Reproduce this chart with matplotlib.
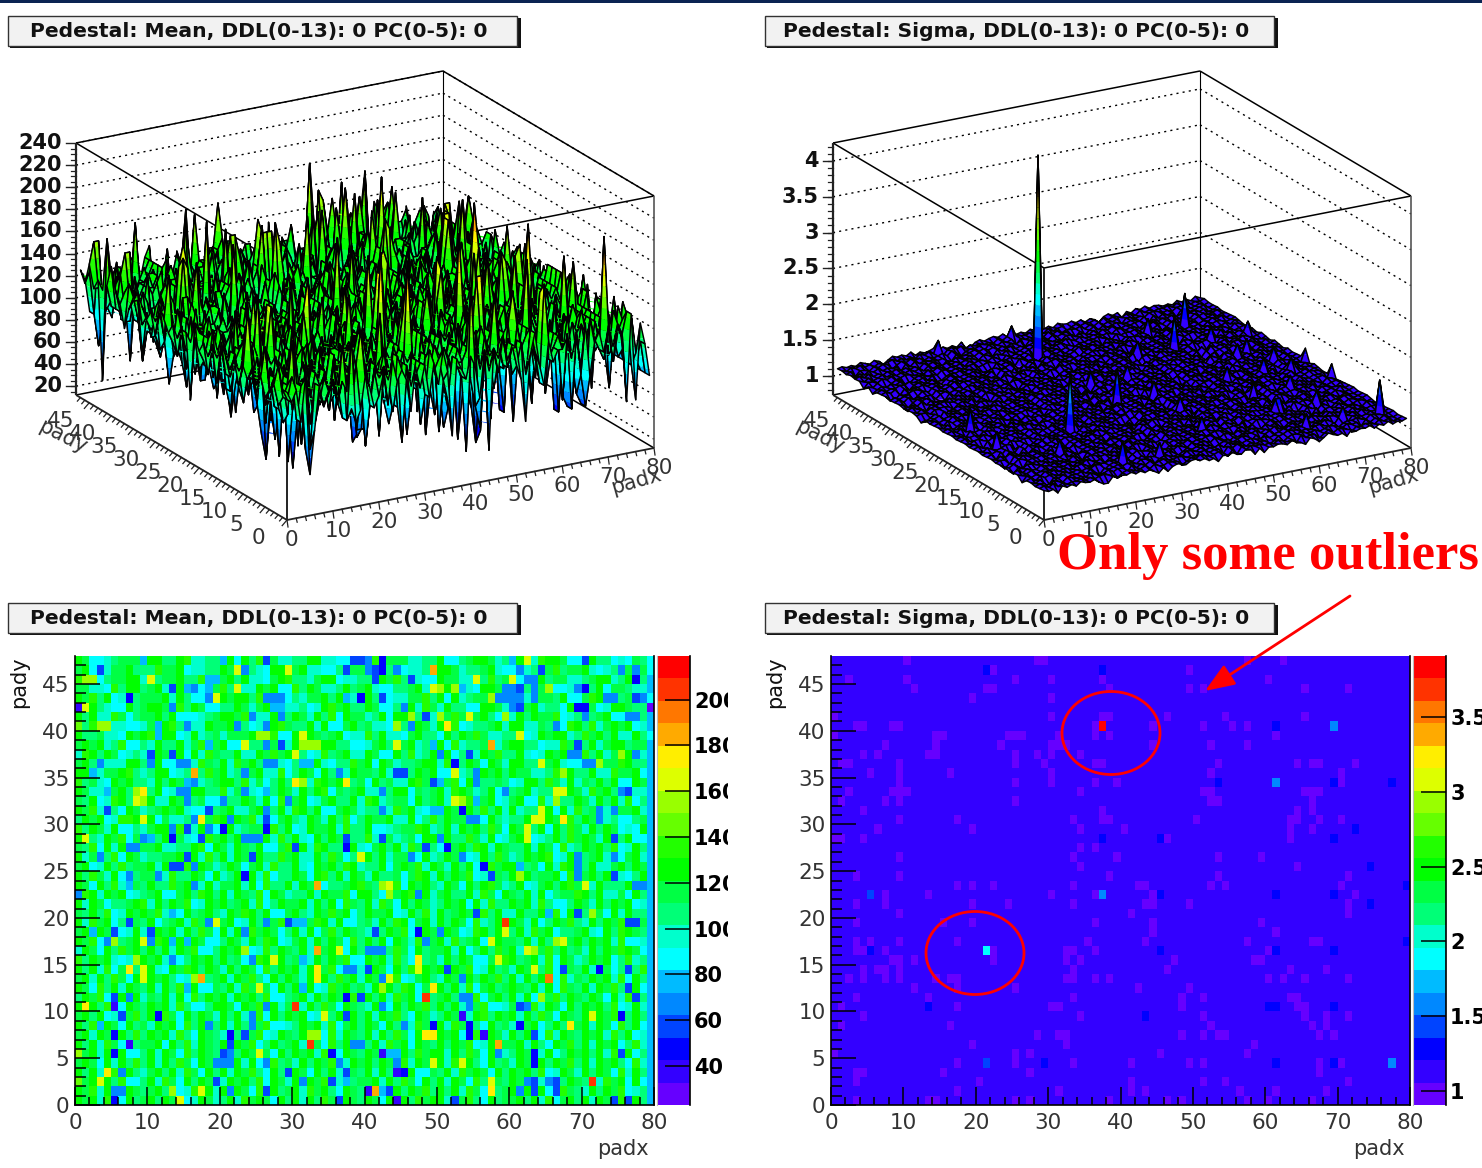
import numpy as np
import matplotlib
matplotlib.use("Agg")
from matplotlib import pyplot as plt
from matplotlib.collections import PolyCollection
from matplotlib.colors import BoundaryNorm, ListedColormap
from matplotlib.patches import Ellipse, Rectangle

NX, NY = 80, 48
title_mean = "Pedestal: Mean, DDL(0-13): 0 PC(0-5): 0"
title_sigma = "Pedestal: Sigma, DDL(0-13): 0 PC(0-5): 0"
note = "Only some outliers"

# ROOT rainbow palette, bottom to top of the colour bar
palette = ["#6600ff", "#3300ff", "#0000ff", "#0044ff", "#0088ff", "#00bbff", "#00ffff", "#00ffcc", "#00ff77", "#00ff44",
           "#00ff00", "#22ff00", "#66ff00", "#99ff00", "#ddff00", "#ffee00", "#ffaa00", "#ff7700", "#ff3300", "#ff0000"]
mean_range = (23.0, 219.0)
sigma_range = (0.906, 3.91)

# mean map, colour band per cell (base-20), top row first
mean_rows = """
a966789998 aa88ab7788 9a6a8b9977 88aa776689 8ba9997788 a6689aa978 8a77baa966 9a88676986
9a67799a88 8b99a67788 a9b8876aa9 9a77668899 a988b67789 aa97889a76 6678a9b899 a767889a96
bc76899aa7 7899a88b66 9a8a7769ab 8879aa6778 89a9b88766 a9977a8b89 667aa89977 89aa78a885
99776b8aa8 9a77aa8669 b8877a9a66 b8a9778a89 a766889a7b 9a8876aa99 7a889b6677 a8a6998775
a9b8a67789 99a7a86677 a9aa8b7766 8799a8a977 a8a67799b8 a6a7899677 8a7b998a66 9ba7789a76
9ba8766a89 aa97b8a966 88a979a8a7 7867ab9a88 a96689a7b9 7a8866aa97 b99a7886a7 8967aa9887
a8a77b9689 9a8a666789 aa9b877a88 a97a8b6a99 78a6aa9877 89b979a867 7a8a99b678 a89a667985
c8b9a77667 98ab8a77a9 9a8867aab9 88a7a669a8 9776b8aa97 a9b67889a7 aa779886ba 8b79a9a675
a889776a9a b8aa67a789 7999a88b66 a7a989a677 b8a7769a88 6a8a9b9778 8967a9aa78 b9a8a77a86
9a9a78b668 7a88a79b99 a66a88b977 a789aa8866 79a8b9a788 a6b7889a79 aa88677b99 8a79aa8995
7ba8a96787 8a98a6a7b9 88a77a9b9a a867b89a77 a966a8b78a 9a6897a9b8 8a767a9aa8 b8a798a675
9a8b777aa8 9a668a7b98 a7b9a88676 8a9a7688b9 a6a97889aa 7b88a96a97 aa8879a766 78a99ba885
aa6799ab87 8aa67898b9 a78a9a77b6 8a96a8b7a9 98a7688a9a 66b789a9a8 a99778b6a8 8a77b99a65
b8976a9a88 7a8a9a6789 aa8b7968a8 a77ba9a889 6a8977ab98 a9b6a78898 67aa8b97a7 98a8a66a95
a97789a8b7 8a67a9aa88 b79976a8a9 7a8ab6989a 77a8aa6989 a7ba978a66 89a7886aa9 7b9a8a9775
98a67ba8a9 a77a9b8966 a88a97a6b8 9a679a88a7 ba78996a89 a788ba9a67 9a66b7a88a 97a8a7b685
a9b7886a97 89a9a766b8 9a779a88a7 ba8a669a97 88a7b9a768 9a96a8b8a7 a7889a6a7b 89a7699a75
8a9a67bba8 a697788a9b a8a9b7669a 87a97a8b68 a99a77a68b 8a99b76a87 88a7aa96b8 a9a7866895
b8a97a6687 9aa8b97a66 8a7899ab8a 67a99a7b88 a667899ba7 8a7a9a8b96 a978a6a8b9 7a8a9676a5
a887a9b69a 78aa9768b9 a8a699a7b8 a76a8a9988 b7a97896aa 8a88b97a67 9aa678a8b9 a97a88a665
98b6a7a8a9 9a7788ab6a 97a98a669b 8a7ba889a7 69a8a7b9a8 669a8ba7a9 88a7a96b78 a9a8b67a85
a79a8b6a97 8899a6a7b8 a7a96a88b9 a77a8b9689 a8a799b6a7 8a9a67a8b9 78a9ab67a8 89a7b69a75
9a67a8b899 a7a89b6a97 8a969a7b88 a76a9a8ba7 88a69a9b7a 97a8a67b9a a8896a7ba9 8a779a8a95
a8b97a6a89 9a7b88a96a 78a9a7b688 a96ab8a7a9 7a88969ba7 a8a9b67a98 a7a899a6b8 9a8a7768a5
a96a8b7a98 a88b9a67a7 99a7a6b88a 7a9a6889ab 98a7b6a9a8 7a96a8ab97 8a679a8ab9 a7a888a975
8ba7a9a678 9a669a8ba8 a7a98b6a97 88a7a99b6a a8679ab8a7 9a88a7b96a 98a7a6899b a8a7796a85
a7a96889ab 7a8a9b67a9 a89a7b68a9 9a7a8a6b98 a7b96a8a97 8a9a6a7b88 a9a7b8668a 97a8a9a675
98a8b67a9a 9b7a6a89a8 7a9ba8a669 a87a9b9a68 a99a67a8b7 a89a96b8a7 7a88a9b6a9 8a96a7a885
a7b9a68a98 a689a7b9a8 9a67a8a9b7 8a9ba7a668 97a8ba69a7 a8a96b78a9 a97a68a9b8 7a8a9b6795
9a8a9b67a7 8a9a7a8b96 a7a8b9a968 a7a69b8a98 7a8a9b67a9 8a967ba8a9 8a7b9a6889 a76a8ba985
a9b67a89a8 7ba8a9a966 8a97a8ba67 9a7a8a96b8 a8a6a97b89 a7b89a67a9 98a7a86b9a 8a9a7b6675
7a96a8b9a8 a8a7a9b668 a9a667b8a9 8a7b9a96a8 a7a8b96a89 9a7a68a8b9 a76a9b8a89 7a8a9ba965
b8a9a7678a 9a7b68a9a8 a8967ba9a8 9a7a8a9b66 a9a7b86a89 7a8a9669ab a89a7b6a97 8a9a68b785
a8a7b69a89 a76a9ba8a9 7a8a96b8a9 a7a99b6a87 8a96a8b7a9 a8a9b67a89 7a9a8b6a98 a7a968a8b5
9a7a8b96a8 a9a867ba89 a7a9b86a8a 97a6a8b9a7 a9a8b679a8 7a96a8a9b8 a7a8a96b79 8a9a7b6a85
a96b8a7a98 a7a8b9a669 8a7b9a96a8 a8a67b9a89 7a9a8ba697 a8a7b69a89 a98a7a6b98 a7a9b86a65
8a9b67a9a7 98a7a6b8a9 a7a9a8b668 9a7a8a96b9 a8a7b9a678 9a8a7b69a8 a7a669b8a9 8a96a7ba85
a7a8b96a98 a9a7b8668a a96a9b8a79 a7a8b96a98 7a96a8a9b8 a8a7a9b667 9a8b7a96a8 a9a8b67a75
9a8a67a9b8 a7b96a8a97 a8a79b6a8a 9a67b8a9a8 a7a9b86a97 8a967ab8a9 a7a8b96a98 a7a9b68a85
a8b7a96a89 7a9a6b8a98 a7a8a9b667 8a9a7b69a8 a96a8a7b98 a7b9a86a89 7a9a68a8b9 a7a96b8a65
9a7a96a8b8 a9a7b86a98 7a8a9b67a9 8a9a6b7a98 a7a8b96a89 a9a67b8a97 a8a96b7a98 a9a7b8a675
a8a7b96a89 9a6a8b7a98 a7a9b68a89 a7a96b8a97 8a7b9a6a98 a8a9b67a89 9a7a86a9b8 a7a9a68b75
b9a7a8a668 a7a96b8a98 7a8a9b96a8 a9a7b86a98 a96a7a8b9a a7a8b96a97 8a9b7a68a9 a8a7b9a685
9a96a7a8b8 a7a8b96a98 a9a7a68b89 7a8a9b67a9 a8a96b7a98 a7b9a86a89 7a96a8a9b8 a7a9a86b75
a8a79b6a87 9a8a7b96a8 a7a9b86a89 a96a8a7b98 a7a8b9a669 8a7b9a96a8 a9a8b67a97 a8a96b7a85
c9a7a8b668 a7b96a8a98 7a9a8b6a97 a8a9b67a89 9a7a8b96a8 a7a96b8a98 a9a67ba8a9 8a7b9a6a65
a9b7a86a98 9a8a67b9a7 a8a96b7a89 a7b9a86a98 7a96a8a9b8 a8a7b96a89 a7a9a68b98 7a8a9b6785
a9a7b86a89 a8a9b67a97 8a7b9a96a8 a7a8b96a98 a96a7a8b9a a7a9b86a89 9a8a7b69a8 a7a96b8a85
""".split("\n")[1:-1]

# cells that stand out from the rest: row (from top) -> "column:band"
mean_marks = {
    0: "9:5 20:5 26:3 38:3 39:3 40:4 42:2 60:5 62:e 70:3",
    1: "3:3 22:e 23:4 29:e 37:3 40:4 41:3 42:2 44:4 49:g 61:4 64:3 75:4 77:4",
    2: "1:d 2:d 10:e 18:5 19:5 41:3 46:3 55:e 60:e 62:4 63:4 77:2",
    3: "13:3 15:5 16:4 18:5 22:e 49:e 50:d 52:d 53:5 59:4 60:4 61:3 63:4 65:d 69:4 70:2",
    4: "7:2 18:4 19:e 26:4 27:4 28:4 37:5 39:2 42:3 57:d 58:4 59:4 60:4 61:4 63:4 73:4 74:4 77:3 78:4",
    5: "0:1 1:e 13:4 27:5 28:5 45:4 60:4 61:3 69:2 70:2 79:0",
    6: "24:4 28:4 46:d 48:3 50:d 54:e 59:d 70:4 76:4 77:4",
    7: "3:d 4:d 11:5 15:4 22:4 26:4 44:d 46:4 51:f 66:4",
    8: "11:5 25:d 26:d 31:e 61:e",
    9: "18:5 23:e 26:4 28:3 31:d 32:d 33:d 44:e 49:5 57:g 69:3",
    10: "10:3 13:3 30:e 50:4 54:3 68:4 69:4 75:d 77:4",
    11: "3:4 10:4 14:4 15:4 26:4 27:4 31:5 32:5 52:2 64:e 70:4 71:4 72:d",
    12: "2:5 16:g 23:4 36:4 44:3 45:3 52:e 55:4 67:d",
    13: "15:5 16:4 30:f 31:d 37:f 49:3 50:5 55:4",
    14: "4:5 8:d 9:f 14:4 15:4 23:4 26:5 42:4 59:4 66:e 67:e 75:4 76:3",
    15: "8:e 9:d 15:4 20:4 29:4 52:e 53:d 55:5 66:d",
    16: "4:3 18:3 26:4 42:4 49:5 50:5 53:2 64:e 72:4 74:4",
    17: "9:e 16:4 17:f 21:4 26:3 54:4 55:4 63:e 64:e 67:f 72:4",
    18: "13:4 15:3 18:4 20:2 26:2 62:e",
    19: "1:e 9:4 10:5 13:2 17:3 23:4 24:4 25:4 37:3 42:3 50:4 62:e 74:3",
    20: "7:4 8:4 30:3 37:2 48:3 51:2",
    21: "3:4 15:3 24:3 39:e 46:4 53:4 69:4 74:4",
    22: "13:3 14:3 16:4 56:2 61:5 69:4",
    23: "7:4 11:4 23:2 57:3 61:d 69:4 74:3",
    24: "7:5 16:4 33:g 42:d 43:e 70:e 77:4 78:4",
    25: "0:4 43:d 47:4",
    27: "13:5 55:3 65:5 69:3 71:d",
    28: "7:3 18:4 19:e 26:4 29:3 30:5 31:5 59:i 76:3 77:3",
    29: "2:5 5:3 10:3 23:4 41:3 47:2 50:4 59:e",
    30: "4:4 5:d 9:e 10:4 13:5 15:5 48:4 57:e 66:d 67:e",
    31: "23:d 33:g 36:e 40:4 41:4 42:4 62:e 63:d",
    32: "8:d 13:4 24:4 27:e 31:5 47:f 58:e",
    33: "7:f 9:e 33:f 37:4 38:4 40:3 47:e 51:3 63:e 67:3 72:2 76:3",
    34: "9:e 16:d 17:g 33:f 42:4 43:e 53:4 65:h",
    35: "15:5 25:e 31:5 42:d 49:f 76:3",
    36: "5:3 7:4 37:2 39:3 48:i 53:4 54:4 64:d 77:3",
    37: "1:f 5:1 26:4 30:i 42:4 54:4 61:3 62:4",
    38: "6:3 11:2 24:4 34:e 37:3 53:1 71:e 75:2",
    39: "3:5 18:4 24:4 45:4 49:2 54:2 61:2 68:f",
    40: "5:2 21:2 23:3 32:d 33:d 48:f 49:f 54:2 56:1 63:3",
    41: "7:1 21:3 32:i 38:4 39:4 58:g",
    42: "0:d 5:2 20:3 21:4 25:e 35:2 42:1 43:5 44:5 58:4 63:2 75:3",
    43: "19:4 20:4 21:4 26:4 36:4 44:4 49:e 53:e 63:2",
    44: "4:f 6:4 29:3 37:3 45:2 44:1",
    45: "3:e 19:3 31:4 35:3 37:5 57:e 62:4 63:3 65:4 66:3 71:i",
    46: "5:4 6:4 13:d 17:e 21:4 26:3 40:1 41:g 42:5 43:3 57:f 61:4 63:3 66:3",
    47: "5:2 14:e 36:3 44:1 52:3 74:3 76:3",
}

# sigma map: fine height of the flat part, one digit per cell, top row first
sigma_rows = """
4635274163 5274638152 4736251847 3625748163 5274136285 4736152847 3625174836 5241736284
5274836152 4736251748 3625847163 5241738265 4736182574 3625471836 5274183625 4738162547
3625417486 5273846152 4718362547 3652748163 5241837265 4716382547 3652417863 5278413625
6152748364 5271836452 4736125847 3615274836 5241736825 4738162574 3652847163 5274136825
4738251647 3625184736 5274163825 4736825147 3652418736 5271638425 4783162547 3625847136
5271483625 4736182547 3625741863 5284137265 4716385274 3652418736 5273841625 4718362574
3652748136 5241738625 4718365274 3625148736 5278416325 4731862547 3652741863 5248137265
4173826547 3652418736 5278136425 4738162547 3625847136 5274163825 4736251847 3615274836
5263748152 4718362547 3652741836 5284137265 4716382574 3652418763 5273841625 4718365247
3625487136 5271638425 4738165247 3625741836 5248137265 4716385247 3652817436 5274136285
4738162547 3652847136 5241736825 4718362574 3625148763 5278416325 4731862574 3652741863
5284137625 4716382547 3652417836 5273841265 4718365274 3625874136 5271683425 4738162574
3625741863 5248137265 4716385274 3652481736 5274136825 4738165247 3652874136 5241736285
4718362547 3625148736 5278416325 4731865247 3652741836 5284137265 4716382574 3652418763
5273846125 4718362574 3625487136 5271638425 4738162547 3625741863 5248173265 4716385247
3652817436 5274163825 4738165274 3652847163 5241736825 4718362547 3625184736 5278416325
4731862574 3652741863 5284137625 4716382547 3652417836 5273841265 4718365247 3625874163
5271683425 4738162574 3625741836 5248137265 4716385274 3652481763 5274136825 4738165247
3652874136 5241763285 4718362574 3625148736 5278461325 4731865274 3652741863 5284173265
4716382547 3652418736 5273846125 4718362547 3625487163 5271638245 4738162574 3625741863
5248137625 4716385247 3652817463 5274136825 4738165274 3652847136 5241736825 4718326547
3625184763 5278416325 4731862547 3652714863 5284137265 4716382574 3652471836 5273841625
4718365274 3625874136 5271683245 4738162547 3625741836 5248173625 4716385274 3652481736
5274163285 4738165247 3652874163 5241736825 4718362574 3625148736 5278416235 4731865247
3652741863 5284137625 4716328547 3652417863 5273841265 4718365247 3625874136 5271638425
4738126547 3625741863 5248137265 4716385247 3652817436 5274136825 4783165274 3652847163
5241736285 4718362547 3625184736 5278416325 4731862574 3652741836 5284173265 4716382547
3652418763 5273846125 4718365274 3625487136 5271683425 4738162574 3625714863 5248137265
4716385274 3652481736 5274163825 4738165247 3652874136 5241763825 4718362574 3625148763
5278416325 4731865247 3652741863 5284137265 4716382574 3652417836 5273841625 4718326574
3625874163 5271638425 4738162547 3625741836 5248173265 4716385247 3652817463 5274136825
4738165274 3652847136 5241736285 4718362547 3625184736 5278461325 4731862574 3652741863
5284137625 4716382547 3652418736 5273846125 4718365247 3625487163 5271683245 4738162574
3625741863 5248137265 4716385274 3652481763 5274136825 4738165247 3652874136 5241763285
4718362574 3625148736 5278416325 4731865274 3652714863 5284173265 4716382547 3652471836
5273841625 4718362547 3625874136 5271638425 4738162574 3625741863 5248137625 4716385247
3652817436 5274163825 4738165274 3652847163 5241736825 4718326547 3625184763 5278416325
4731862547 3652741836 5284137265 4716382574 3652418763 5273841265 4718365274 3625487136
5271683425 4738162547 3625714836 5248173625 4716385274 3652481736 5274136285 4738165247
3652874163 5241736825 4718362574 3625148736 5278416235 4731865247 3652741863 5284137625
4716328547 3652417863 5273846125 4718365247 3625874136 5271638425 4738126547 3625741863
5248137265 4716385247 3652817436 5274163825 4783165274 3652847163 5241763285 4718362547
3625184736 5278416325 4731862574 3652741836 5284173265 4716382547 3652418763 5273841265
4718365274 3625487136 5271683425 4738162574 3625714863 5248137265 4716385274 3652481736
5274163825 4738165247 3652874136 5241763825 4718362574 3625148763 5278416325 4731865247
3652741863 5284137265 4716382574 3652417836 5273841625 4718326574 3625874163 5271638425
4738162547 3625741836 5248173265 4716385247 3652817463 5274136825 4738165274 3652847136
5241736285 4718362547 3625184736 5278461325 4731862574 3652741863 5284137625 4716382547
""".split("\n")[1:-1]

# purple cells just under the flat level: row (from top) -> columns
sigma_low = {
    0: [10, 28, 29, 57, 62], 1: [22, 49], 2: [2, 10, 25, 30, 37, 60], 3: [11, 21, 22, 38, 49, 51, 65, 71],
    4: [19, 30], 6: [0, 30, 37, 38, 46, 54, 65], 7: [3, 4, 8, 9, 36, 44, 51, 55, 57],
    8: [0, 14, 15, 24, 25, 26, 31, 36, 38, 61], 9: [7, 14, 23, 30, 31, 32, 44, 52, 57],
    10: [4, 6, 13, 14, 25, 28, 30, 34], 11: [1, 2, 9, 25, 29, 36, 37, 53, 64, 66, 67, 72],
    12: [5, 9, 16, 30, 52, 70], 13: [9, 25, 30, 36, 39, 70], 14: [2, 8, 9, 10, 34, 51, 52, 65, 66, 67],
    15: [1, 7, 9, 25, 52, 53, 66], 16: [4, 37, 64, 66], 17: [9, 17, 33, 37, 38, 50, 63, 64, 67, 70],
    18: [6, 19, 34, 40, 63, 66], 19: [0, 1, 4, 46, 63], 20: [34, 36], 21: [9, 33, 39, 53, 59],
    22: [34, 64], 23: [3, 9, 38, 53, 71], 24: [17, 19, 22, 33, 42, 43, 52, 54, 70],
    25: [7, 13, 30, 36, 44, 72], 26: [3, 7, 19, 24, 33, 43, 44, 49, 71], 27: [9, 41, 71],
    28: [3, 15, 19, 36, 44, 59], 29: [44, 61], 30: [3, 5, 9, 17, 35, 43, 57, 66, 67],
    31: [3, 4, 7, 22, 32, 33, 36, 60], 32: [8, 9, 11, 22, 32, 34, 47, 58, 59], 33: [4, 6, 7, 9, 33, 46, 63, 68],
    34: [2, 4, 7, 9, 14, 16, 17, 32, 33, 36, 38, 60, 62, 65, 71], 35: [11, 17, 25, 42, 49],
    36: [3, 13, 33, 48, 51, 63, 64], 37: [1, 17, 30, 31, 48, 64, 65], 38: [4, 34, 51, 65, 68, 71],
    39: [1, 16, 52, 66, 68], 40: [28, 31, 32, 48, 51, 53, 54, 67, 69], 41: [19, 32, 58], 42: [0, 25, 27, 45, 57],
    43: [17, 25, 33, 41, 49, 51, 67, 70], 44: [3, 4, 15, 27, 67], 45: [3, 20, 41, 51, 54, 71],
    46: [17, 31, 41, 43, 56, 61, 68], 47: [3, 13, 14, 25, 27, 38, 46, 48, 57, 60, 66],
}

# the outliers: (row from top, column, sigma)
sigma_high = [(7, 37, 3.88), (31, 21, 1.9), (1, 21, 1.28), (1, 37, 1.28), (7, 61, 1.3), (7, 69, 1.55), (13, 53, 1.3),
              (13, 61, 1.55), (13, 69, 1.3), (13, 77, 1.28), (18, 72, 1.28), (19, 37, 1.3), (19, 45, 1.28), (19, 69, 1.28),
              (22, 74, 1.28), (24, 79, 1.28), (25, 5, 1.4), (25, 37, 1.55), (25, 45, 1.28), (25, 61, 1.28), (25, 69, 1.3),
              (26, 74, 1.28), (30, 79, 1.28), (31, 5, 1.3), (31, 45, 1.28), (31, 61, 1.28), (31, 69, 1.28), (37, 13, 1.3),
              (37, 60, 1.28), (37, 61, 1.28), (37, 69, 1.28), (38, 43, 1.28), (43, 21, 1.4), (43, 29, 1.28), (43, 61, 1.28),
              (43, 69, 1.28), (43, 77, 1.55)]

mean_ticks = [40, 60, 80, 100, 120, 140, 160, 180, 200]
sigma_ticks = [1, 1.5, 2, 2.5, 3, 3.5]
mean_zticks = list(range(20, 241, 20))
sigma_zticks = [1, 1.5, 2, 2.5, 3, 3.5, 4]


def read_mean():
    step = (mean_range[1] - mean_range[0]) / 20
    grid = np.zeros((NY, NX))
    for r, line in enumerate(mean_rows):
        codes = list(line.replace(" ", "").ljust(NX, "9")[:NX])
        for mark in mean_marks.get(r, "").split():
            col, code = mark.split(":")
            codes[int(col)] = code
        grid[NY - 1 - r] = [mean_range[0] + step * (int(c, 20) + 0.5) for c in codes]
    return grid


def read_sigma():
    grid = np.zeros((NY, NX))
    for r, line in enumerate(sigma_rows):
        digits = line.replace(" ", "").ljust(NX, "4")[:NX]
        grid[NY - 1 - r] = [1.08 + 0.008 * int(d) for d in digits]
    for r, cols in sigma_low.items():
        for c in cols:
            grid[NY - 1 - r, c] = 1.05
    for r, c, v in sigma_high:
        grid[NY - 1 - r, c] = v
    return grid


mean_map = read_mean()
sigma_map = read_sigma()

W, H = 1482, 1168
fig = plt.figure(figsize=(W / 100, H / 100), dpi=100, facecolor="white")
plt.rcParams["font.family"] = "DejaVu Sans"
GREY = "#333333"
cmap = ListedColormap(palette)


def px_axes(left, top, right, bottom, **kw):
    return fig.add_axes([left / W, 1 - bottom / H, (right - left) / W, (bottom - top) / H], **kw)


def clip_band(pts, lo, hi):
    # keep the part of a polygon (x, y, z) with lo <= z <= hi
    for limit, sign in ((lo, 1), (hi, -1)):
        out = []
        for k in range(len(pts)):
            a, b = pts[k], pts[(k + 1) % len(pts)]
            da, db = sign * (a[2] - limit), sign * (b[2] - limit)
            if da >= 0:
                out.append(a)
            if da * db < 0:
                t = da / (da - db)
                out.append(tuple(a[n] + t * (b[n] - a[n]) for n in range(3)))
        pts = out
        if not pts:
            return pts
    return pts


def draw_surface(ax, data, ox, zlo, zhi, crange, zticks, zminor, ticklabels):
    def project(x, y, z):
        return (ox + 367 * x / NX - 211 * y / NY, 520 - 72 * x / NX - 125 * y / NY - 252 * (z - zlo) / (zhi - zlo))

    def seg(a, b, **kw):
        pa, pb = project(*a), project(*b)
        ax.plot([pa[0], pb[0]], [pa[1], pb[1]], solid_capstyle="butt", **kw)

    # back walls, dotted grid at each z tick
    for z in zticks:
        seg((0, NY, z), (NX, NY, z), color="black", lw=1, ls=(0, (1.5, 3)))
        seg((NX, NY, z), (NX, 0, z), color="black", lw=1, ls=(0, (1.5, 3)))
    black = dict(color="black", lw=1.1)
    seg((0, NY, zhi), (NX, NY, zhi), **black)
    seg((NX, NY, zhi), (NX, 0, zhi), **black)
    seg((0, NY, zlo), (NX, NY, zlo), **black)
    seg((NX, NY, zlo), (NX, 0, zlo), **black)
    seg((NX, NY, zlo), (NX, NY, zhi), color="black", lw=0.8)
    seg((0, NY, zhi), (0, 0, zhi), **black)
    seg((0, 0, zhi), (NX, 0, zhi), **black)
    seg((0, 0, zlo), (0, 0, zhi), color="#222222", lw=1.4)
    seg((NX, 0, zlo), (NX, 0, zhi), color="#555555", lw=1.2)
    seg((0, NY, zlo), (0, NY, zhi), color="#222222", lw=1.6)
    seg((0, 0, zlo), (NX, 0, zlo), color="#222222", lw=1.3)
    seg((0, 0, zlo), (0, NY, zlo), color="#222222", lw=1.3)

    # x axis ticks and labels
    for v in range(0, NX + 1, 2):
        p = project(v, 0, zlo)
        n = 7 if v % 10 == 0 else 4
        ax.plot([p[0], p[0] + 1], [p[1], p[1] + n], color="#222222", lw=0.9)
        if v % 10 == 0:
            dx = 4 if v == 0 else 5
            ax.text(p[0] + dx, p[1] + 20, str(v), ha="center", va="center", fontsize=15.5, color=GREY)
    # y axis ticks and labels
    for v in range(0, NY):
        p = project(0, v, zlo)
        n = 1.6 if v % 5 == 0 else 1
        ax.plot([p[0], p[0] - 3 * n], [p[1], p[1] + 3.5 * n], color="#222222", lw=0.9)
        if v % 5 == 0:
            ax.text(p[0] - 29, p[1] + 18, str(v), ha="center", va="center", fontsize=15.5, color=GREY)
    # z axis ticks and labels
    for v in zminor:
        p = project(0, NY, v)
        ax.plot([p[0] - 5, p[0]], [p[1], p[1]], color="#222222", lw=0.9)
    for v, lab in zip(zticks, ticklabels):
        p = project(0, NY, v)
        ax.plot([p[0] - 10, p[0]], [p[1], p[1]], color="#222222", lw=1)
        ax.text(p[0] - 14, p[1], lab, ha="right", va="center", fontsize=15, fontweight="bold", color="#111111")
    ax.text(ox + 349, 481, "padx", rotation=16, ha="center", va="center", fontsize=15, color=GREY)
    ax.text(ox - 224, 437, "pady", rotation=-27, ha="center", va="center", fontsize=15, color=GREY)

    # SURF1: back to front, each cell cut into colour bands, then its black outline
    edges = np.linspace(crange[0], crange[1], 21)
    polys, faces, lines, widths = [], [], [], []
    for j in range(NY - 2, -1, -1):
        for i in range(NX - 2, -1, -1):
            corners = [(i + 0.5, j + 0.5, data[j, i]), (i + 1.5, j + 0.5, data[j, i + 1]),
                       (i + 1.5, j + 1.5, data[j + 1, i + 1]), (i + 0.5, j + 1.5, data[j + 1, i])]
            zs = [c[2] for c in corners]
            k0 = int(np.clip(np.searchsorted(edges, min(zs)) - 1, 0, 19))
            k1 = int(np.clip(np.searchsorted(edges, max(zs)) - 1, 0, 19))
            for k in range(k0, k1 + 1):
                part = corners if k0 == k1 else clip_band(corners, edges[k], edges[k + 1])
                if len(part) >= 3:
                    polys.append([project(*c) for c in part])
                    faces.append(palette[k])
                    lines.append("none")
                    widths.append(0)
            polys.append([project(*c) for c in corners])
            faces.append("none")
            lines.append("black")
            widths.append(1.05)
    ax.add_collection(PolyCollection(polys, facecolors=faces, edgecolors=lines, linewidths=widths, zorder=3))


def draw_map(left, data, crange, ticks, ticklabels):
    ax = px_axes(left, 656, left + 579, 1105)
    edges = np.linspace(crange[0], crange[1], 21)
    norm = BoundaryNorm(edges, 20)
    ax.pcolormesh(np.arange(NX + 1), np.arange(NY + 1), data, cmap=cmap, norm=norm)
    ax.set_xlim(0, NX)
    ax.set_ylim(0, NY)
    ax.set_xticks(range(0, NX + 1, 10))
    ax.set_xticks(range(0, NX + 1, 2), minor=True)
    ax.set_yticks(range(0, NY, 5))
    ax.set_yticks(range(0, NY), minor=True)
    ax.tick_params(axis="x", which="major", direction="in", length=13, width=1.1, labelsize=15.5, labelcolor=GREY, pad=6)
    ax.tick_params(axis="x", which="minor", direction="in", length=6, width=1.1)
    ax.tick_params(axis="y", which="major", direction="in", length=18, width=1.1, labelsize=15.5, labelcolor=GREY, pad=4)
    ax.tick_params(axis="y", which="minor", direction="in", length=8, width=1.1)
    ax.spines["top"].set_visible(False)
    ax.spines["right"].set_linewidth(1.2)
    ax.spines["left"].set_linewidth(1.2)
    ax.spines["bottom"].set_linewidth(1.2)
    ax.text(75.7, -4.7, "padx", ha="center", va="center", fontsize=15, color=GREY)
    ax.text(-7.7, 45.2, "pady", rotation=90, ha="center", va="center", fontsize=15, color="#111111")

    cax = px_axes(left + 582, 656, left + 615, 1105)
    cax.pcolormesh([0, 1], edges, np.arange(20).reshape(-1, 1) + 0.5, cmap=cmap, vmin=0, vmax=20)
    cax.set_xticks([])
    cax.set_ylim(crange)
    cax.yaxis.tick_right()
    cax.set_yticks(ticks)
    cax.set_yticklabels(ticklabels)
    cax.tick_params(axis="y", direction="in", length=18, width=1.1, labelsize=15, pad=3)
    for lab in cax.get_yticklabels():
        lab.set_fontweight("bold")
    cax.spines["top"].set_visible(False)
    cax.spines["bottom"].set_visible(False)
    cax.spines["left"].set_color("#bbbbbb")
    cax.spines["right"].set_linewidth(1.2)
    return ax


draw_map(75, mean_map, mean_range, mean_ticks, [str(v) for v in mean_ticks])
draw_map(831, sigma_map, sigma_range, sigma_ticks, ["1", "1.5", "2", "2.5", "3", "3.5"])

# overlay in figure pixels for the boxes, the 3D frames and the notes
ov = fig.add_axes([0, 0, 1, 1], zorder=5)
ov.set_xlim(0, W)
ov.set_ylim(H, 0)
ov.axis("off")
ov.patch.set_alpha(0)

ov.add_patch(Rectangle((0, 0), W, 3, color="#0b2352", lw=0))
ov.add_patch(Rectangle((728, 656), 30, 449, color="white", lw=0))

for bx, by, txt in [(8, 16, title_mean), (765, 16, title_sigma), (8, 603, title_mean), (765, 603, title_sigma)]:
    ov.add_patch(Rectangle((bx + 2, by + 2), 511, 30, color="#111111", lw=0))
    ov.add_patch(Rectangle((bx, by), 509, 30, facecolor="#f2f2f2", edgecolor="#333333", lw=1))
    ov.text(bx + 22 if txt == title_mean else bx + 18, by + 15.5, txt, ha="left", va="center", fontsize=14.6, fontweight="bold", color="#111111")

draw_surface(ov, mean_map, 287, 12.0, 240.0, mean_range, mean_zticks, list(range(15, 240, 5)),
             [str(v) for v in mean_zticks])
draw_surface(ov, sigma_map, 1044, 0.735, 4.25, sigma_range, sigma_zticks,
             [v / 10 for v in range(8, 43)], ["1", "1.5", "2", "2.5", "3", "3.5", "4"])

ov.text(1268, 556, note, ha="center", va="center", fontsize=38, fontweight="bold", family="Liberation Serif", color="#ff0000")
ov.add_patch(Ellipse((1111, 733), 98, 83, fill=False, edgecolor="#ff0000", lw=2))
ov.add_patch(Ellipse((975, 953), 98, 83, fill=False, edgecolor="#ff0000", lw=2))
ov.annotate("", xy=(1205, 691), xytext=(1350, 596),
            arrowprops=dict(arrowstyle="-|>,head_length=0.9,head_width=0.35", color="#ff0000", lw=2, shrinkA=0, shrinkB=0, mutation_scale=20))

fig.savefig("out.png", dpi=100)
